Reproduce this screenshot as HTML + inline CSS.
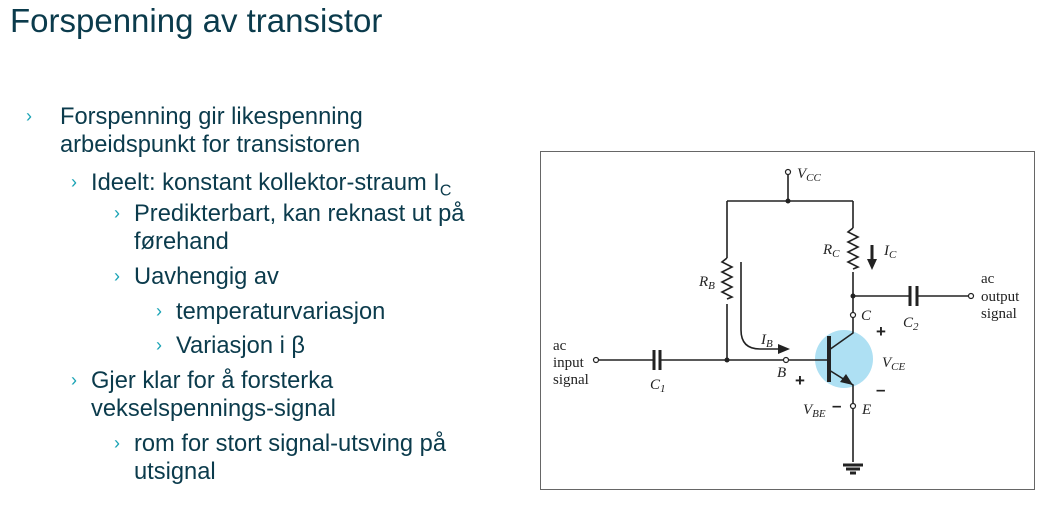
<!DOCTYPE html>
<html><head><meta charset="utf-8"><style>
body{margin:0;width:1059px;height:516px;background:#fff;position:relative;overflow:hidden;font-family:"Liberation Sans",sans-serif;color:#0b3b4c}
.t{position:absolute;white-space:nowrap}
.b{position:absolute;color:#1aa3b5;font-size:18px}
.l{font-size:23.7px;line-height:28px}
</style></head><body>
<div class="t" style="left:10px;top:2px;font-size:33px">Forspenning av transistor</div>
<div class="b" style="left:26px;top:106px">›</div>
<div class="t l" style="left:60px;top:103px">Forspenning gir likespenning<br>arbeidspunkt for transistoren</div>
<div class="b" style="left:71px;top:172px">›</div>
<div class="t l" style="left:91px;top:169px">Ideelt: konstant kollektor-straum I<sub style="font-size:16px">C</sub></div>
<div class="b" style="left:114px;top:203px">›</div>
<div class="t l" style="left:134px;top:200px">Predikterbart, kan reknast ut på<br>førehand</div>
<div class="b" style="left:114px;top:266px">›</div>
<div class="t l" style="left:134px;top:263px">Uavhengig av</div>
<div class="b" style="left:156px;top:301px">›</div>
<div class="t l" style="left:176px;top:298px">temperaturvariasjon</div>
<div class="b" style="left:156px;top:335px">›</div>
<div class="t l" style="left:176px;top:332px">Variasjon i β</div>
<div class="b" style="left:71px;top:370px">›</div>
<div class="t l" style="left:91px;top:367px">Gjer klar for å forsterka<br>vekselspennings-signal</div>
<div class="b" style="left:114px;top:433px">›</div>
<div class="t l" style="left:134px;top:430px">rom for stort signal-utsving på<br>utsignal</div>

<svg style="position:absolute;left:0;top:0" width="1059" height="516" font-family="Liberation Serif, serif" font-size="15" fill="#222">
<rect x="540.5" y="151.5" width="494" height="338" fill="none" stroke="#666"/>
<circle cx="844" cy="359" r="29" fill="#aee0f3"/>
<g stroke="#222" stroke-width="1.6" fill="none">
<path d="M788 174V201M727 201H853M727 201V258M727 304V360M853 201V228M853 272V296H911M916 296H969"/>
<path d="M727 258l-5 4 10 5-10 5 10 5-10 5 10 5-10 5 10 5-5 2"/>
<path d="M853 228l-5 4 10 5-10 5 10 5-10 5 10 5-10 5 10 5-5 2"/>
<path d="M853 296V312M853 318V333L829 350M829 370L853 385V403M853 409V462"/>
<path d="M599 360H653M661 360H784M789 360H829"/>
<path d="M741 262V330Q741 349 760 349H782"/>
</g>
<line x1="829" y1="336" x2="829" y2="382" stroke="#222" stroke-width="4"/>
<g stroke="#222" stroke-width="3"><line x1="654" y1="350" x2="654" y2="370"/><line x1="660" y1="350" x2="660" y2="370"/><line x1="910" y1="286" x2="910" y2="306"/><line x1="917" y1="286" x2="917" y2="306"/>
<line x1="872" y1="245" x2="872" y2="262"/>
<line x1="843" y1="465" x2="863" y2="465"/><line x1="846" y1="469" x2="860" y2="469"/><line x1="850" y1="473" x2="856" y2="473"/></g>
<polygon points="790,349 778,344 778,354" fill="#222"/>
<polygon points="872,270 867,259 877,259" fill="#222"/>
<polygon points="853,385 840,382 846,374" fill="#222"/>
<g fill="#fff" stroke="#222" stroke-width="1.2"><circle cx="788" cy="172" r="2.5"/><circle cx="596" cy="360" r="2.5"/><circle cx="786" cy="360" r="2.5"/><circle cx="853" cy="315" r="2.5"/><circle cx="853" cy="406" r="2.5"/><circle cx="971" cy="296" r="2.5"/></g>
<g fill="#222"><circle cx="788" cy="201" r="2.5"/><circle cx="727" cy="360" r="2.5"/><circle cx="853" cy="296" r="2.5"/></g>
<g font-style="italic">
<text x="797" y="178">V<tspan font-size="11" dy="3">CC</tspan></text>
<text x="823" y="254">R<tspan font-size="11" dy="3">C</tspan></text>
<text x="884" y="255">I<tspan font-size="11" dy="3">C</tspan></text>
<text x="699" y="286">R<tspan font-size="11" dy="3">B</tspan></text>
<text x="761" y="344">I<tspan font-size="11" dy="3">B</tspan></text>
<text x="861" y="320">C</text>
<text x="903" y="327">C<tspan font-size="11" dy="3">2</tspan></text>
<text x="650" y="389">C<tspan font-size="11" dy="3">1</tspan></text>
<text x="777" y="377">B</text>
<text x="882" y="367">V<tspan font-size="11" dy="3">CE</tspan></text>
<text x="803" y="414">V<tspan font-size="11" dy="3">BE</tspan></text>
<text x="862" y="414">E</text>
</g>
<g font-family="Liberation Sans, sans-serif" font-weight="bold" font-size="17"><text x="876" y="337">+</text><text x="795" y="386">+</text><text x="876" y="395">–</text><text x="832" y="411">–</text></g>
<text x="553" y="350">ac</text><text x="553" y="367">input</text><text x="553" y="384">signal</text>
<text x="981" y="283">ac</text><text x="981" y="301">output</text><text x="981" y="318">signal</text>
</svg>
</body></html>
